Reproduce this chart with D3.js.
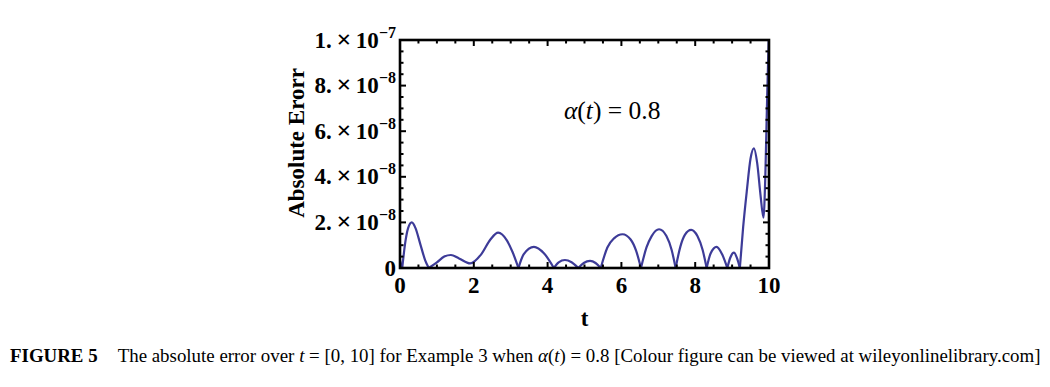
<!DOCTYPE html>
<html>
<head>
<meta charset="utf-8">
<script src="https://cdn.jsdelivr.net/npm/d3@7"></script>
<style>
  body { margin: 0; background: #fff; }
  svg { display: block; }
</style>
</head>
<body>
<div id="graph"></div>
<script>
// values (error in units of 1e-8)
var tVals = [0, 0.06, 0.15, 0.22, 0.32, 0.42, 0.55, 0.68, 0.78,
    1.0, 1.2, 1.38, 1.6, 1.9, 2.2, 2.45, 2.66, 2.9, 3.05, 3.21,
    3.35, 3.63, 3.9, 4.17,
    4.3, 4.47, 4.65, 4.83,
    4.98, 5.15, 5.3, 5.44,
    5.62, 5.8, 6.03, 6.25, 6.4, 6.53,
    6.68, 6.82, 7.02, 7.22, 7.36, 7.47,
    7.6, 7.72, 7.89, 8.06, 8.2, 8.31,
    8.42, 8.58, 8.73, 8.87,
    8.95, 9.05, 9.14, 9.21,
    9.3, 9.4, 9.5, 9.59, 9.68, 9.77, 9.85, 9.9, 9.95, 10]
var errVals = [0.33, 0, 1.2, 1.75, 2.0, 1.75, 1.05, 0.35, 0,
    0.25, 0.5, 0.57, 0.42, 0.2, 0.6, 1.25, 1.55, 1.2, 0.7, 0,
    0.6, 0.93, 0.65, 0,
    0.25, 0.35, 0.25, 0,
    0.22, 0.31, 0.22, 0,
    0.9, 1.3, 1.48, 1.25, 0.75, 0,
    0.9, 1.4, 1.70, 1.4, 0.8, 0,
    0.95, 1.45, 1.67, 1.4, 0.8, 0,
    0.65, 0.93, 0.6, 0,
    0.45, 0.67, 0.4, 0,
    1.8, 3.4, 4.8, 5.25, 4.6, 3.2, 2.21, 4.0, 7.5, 10.5]

var xTicks = [0, 2, 4, 6, 8, 10]
var yTicks = [0, 2, 4, 6, 8, 10]
var yTickMantissa = ["0", "2.", "4.", "6.", "8.", "1."]
var yTickExp = [null, "\u22128", "\u22128", "\u22128", "\u22128", "\u22127"]

var width, height
var svg = d3.select("#graph").append("svg")

function draw() {
    width = 1050
    height = 387
    svg.attr("width", width).attr("height", height)
    drawChart()
}

function drawChart() {
    var serif = "'Liberation Serif', 'DejaVu Serif', serif"
    var x = d3.scaleLinear().domain([0, 10]).range([400, 769])
    var y = d3.scaleLinear().domain([0, 10]).range([268, 40])

    svg.append("clipPath").attr("id", "clip")
        .append("rect")
        .attr("x", x(0)).attr("y", y(10))
        .attr("width", x(10) - x(0)).attr("height", y(0) - y(10))

    // split into humps at the zeros so the cusps stay sharp
    var pts = tVals.map(function(t, i) { return [t, errVals[i]] })
    var segs = [], cur = []
    pts.forEach(function(p, i) {
        cur.push(p)
        if (p[1] === 0 && i > 0 && i < pts.length - 1) {
            segs.push(cur)
            cur = [p]
        }
    })
    segs.push(cur)

    var line = d3.line()
        .x(function(d) { return x(d[0]) })
        .y(function(d) { return y(d[1]) })
        .curve(d3.curveMonotoneX)

    svg.append("g").attr("clip-path", "url(#clip)")
        .selectAll("path").data(segs).enter()
        .append("path")
        .attr("d", line)
        .attr("fill", "none")
        .attr("stroke", "#3d3b98")
        .attr("stroke-width", 2.2)
        .attr("stroke-linejoin", "round")

    // ticks, inward on all sides
    var ax = svg.append("g").attr("stroke", "#000")
    d3.range(0, 10.01, 0.5).forEach(function(v) {
        var major = Math.abs(v % 2) < 1e-9
        var len = major ? 6 : 3.5
        ax.append("line").attr("x1", x(v)).attr("x2", x(v))
            .attr("y1", y(0)).attr("y2", y(0) - len).attr("stroke-width", 2)
        ax.append("line").attr("x1", x(v)).attr("x2", x(v))
            .attr("y1", y(10)).attr("y2", y(10) + len).attr("stroke-width", 2)
        ax.append("line").attr("y1", y(v)).attr("y2", y(v))
            .attr("x1", x(0)).attr("x2", x(0) + len).attr("stroke-width", 2)
        ax.append("line").attr("y1", y(v)).attr("y2", y(v))
            .attr("x1", x(10)).attr("x2", x(10) - len).attr("stroke-width", 2)
    })

    svg.append("rect")
        .attr("x", x(0)).attr("y", y(10))
        .attr("width", x(10) - x(0)).attr("height", y(0) - y(10))
        .attr("fill", "none").attr("stroke", "#000").attr("stroke-width", 2.6)

    // x tick labels
    svg.append("g").selectAll("text").data(xTicks).enter()
        .append("text")
        .attr("x", function(d) { return x(d) })
        .attr("y", 293)
        .attr("text-anchor", "middle")
        .style("font-family", serif).style("font-weight", "bold").style("font-size", "23px")
        .text(function(d) { return d })

    // y tick labels
    var yl = svg.append("g").selectAll("text").data(yTicks).enter()
        .append("text")
        .attr("x", 396)
        .attr("y", function(d) { return y(d) + 7.5 })
        .attr("text-anchor", "end")
        .style("font-family", serif).style("font-weight", "bold").style("font-size", "23px")
    yl.each(function(d, i) {
        var t = d3.select(this)
        if (yTickExp[i] === null) { t.text(yTickMantissa[i]); return }
        t.append("tspan").text(yTickMantissa[i] + "\u2009")
        t.append("tspan").style("font-size", "26px").text("\u00d7")
        t.append("tspan").text("\u200910")
        t.append("tspan").attr("dy", -10).style("font-size", "16px").text(yTickExp[i])
    })

    svg.append("text")
        .attr("transform", "translate(304,143) rotate(-90)")
        .attr("text-anchor", "middle")
        .style("font-family", serif).style("font-weight", "bold").style("font-size", "23px")
        .text("Absolute Erorr")

    svg.append("text")
        .attr("x", (x(0) + x(10)) / 2).attr("y", 326)
        .attr("text-anchor", "middle")
        .style("font-family", serif).style("font-weight", "bold").style("font-size", "23px")
        .text("t")

    var ann = svg.append("text")
        .attr("x", x(5.75)).attr("y", y(6.55))
        .attr("text-anchor", "middle")
        .style("font-family", serif).style("font-size", "25.5px")
    ann.append("tspan").style("font-style", "italic").text("\u03b1")
    ann.append("tspan").text("(")
    ann.append("tspan").style("font-style", "italic").text("t")
    ann.append("tspan").text(") = 0.8")

    // caption
    var cap = svg.append("text")
        .attr("x", 10).attr("y", 362)
        .style("font-family", serif).style("font-size", "18.9px")
    cap.append("tspan").style("font-weight", "bold").text("FIGURE 5")
    cap.append("tspan").attr("dx", 20).text("The absolute error over ")
    cap.append("tspan").style("font-style", "italic").text("t")
    cap.append("tspan").text(" = [0, 10] for Example 3 when ")
    cap.append("tspan").style("font-style", "italic").text("\u03b1")
    cap.append("tspan").text("(")
    cap.append("tspan").style("font-style", "italic").text("t")
    cap.append("tspan").text(") = 0.8 [Colour figure can be viewed at wileyonlinelibrary.com]")
}

draw()
</script>
</body>
</html>
